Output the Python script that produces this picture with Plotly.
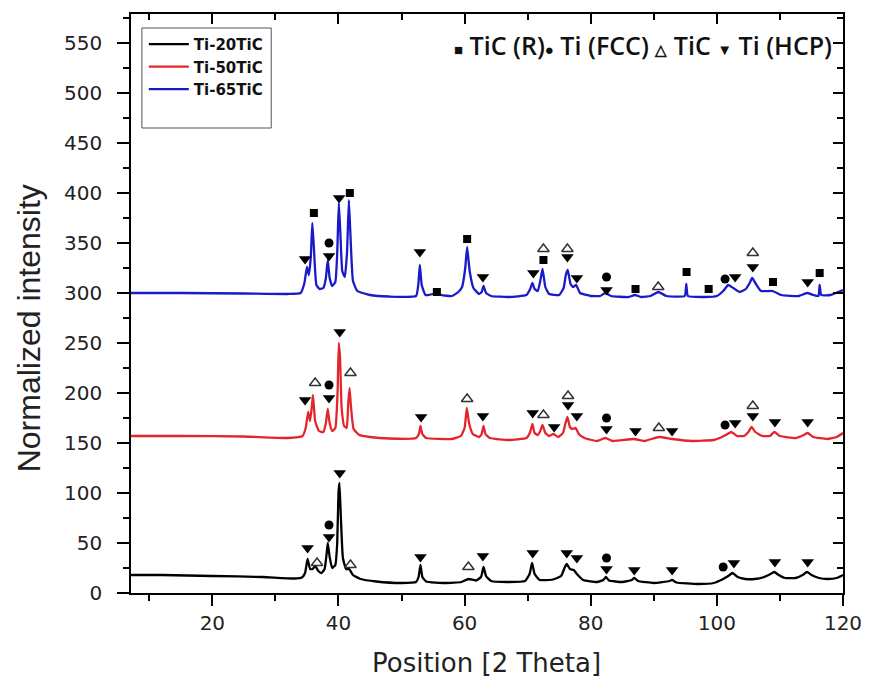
import plotly.graph_objects as go

# ---------------- data ----------------
samples = ["Ti-20TiC", "Ti-50TiC", "Ti-65TiC"]
colors = ["#000000", "#e3262b", "#1a1ac8"]

theta_20 = [7.1, 12, 20, 28, 33, 34.2, 34.7, 35.1, 35.5, 35.9, 36.3, 36.8, 37.3, 37.8, 38.1, 38.3, 38.6, 39.0,
            39.5, 39.8, 40.0, 40.15, 40.35, 40.7, 41.2, 41.7, 42.3, 43.5, 46, 50, 52.3, 52.7, 53.0, 53.3, 53.9,
            57, 59.5, 60.6, 61.8, 62.6, 63.0, 63.4, 64.2, 67, 69.6, 70.3, 70.7, 71.1, 71.9, 74, 75.3, 75.9,
            76.2, 76.7, 77.3, 77.8, 78.8, 81, 82.0, 82.4, 82.9, 85, 86.5, 86.9, 87.5, 90, 92.5, 92.9, 93.6, 97,
            99.5, 101, 101.8, 102.5, 103.3, 104.5, 106, 107.5, 108.5, 109.1, 109.8, 110.8, 112.5, 113.6, 114.3,
            115.0, 116.2, 117.5, 119, 120]
int_20 = [18, 18, 17, 16, 14.5, 15.5, 20, 34, 24, 24, 27, 22, 20, 24, 38, 50, 36, 25,
          28, 50, 100, 110, 80, 35, 24, 24, 18, 14, 11.5, 10, 11, 16, 28, 16, 11.5,
          10, 11, 14, 12.5, 16, 26, 17, 12, 11, 12, 19, 30, 19, 13, 13.5, 17, 26,
          29, 24, 23, 19, 13, 11, 13, 16, 12.5, 11, 13, 15, 12, 10, 12, 13, 10.5, 9,
          10, 14, 17, 20, 16, 14, 14, 16, 19, 21, 18, 15, 15, 18, 21,
          18, 15, 14, 15, 18]

theta_50 = [7.1, 15, 25, 32, 34.3, 34.8, 35.2, 35.5, 35.75, 35.95, 36.3, 36.9, 37.6, 38.0, 38.3, 38.6, 39.0,
            39.5, 39.85, 40.05, 40.25, 40.5, 40.9, 41.3, 41.55, 41.75, 42.0, 42.4, 43.3, 45, 48, 52.3, 52.75,
            53.0, 53.3, 53.9, 58, 59.4, 60.0, 60.35, 60.7, 61.3, 62.3, 62.7, 63.0, 63.3, 64.0, 67, 69.8, 70.4,
            70.75, 71.1, 71.6, 72.0, 72.35, 72.8, 73.4, 74.1, 74.8, 75.6, 76.0, 76.3, 76.7, 77.1, 77.6, 78.1,
            79, 81, 82.3, 83.5, 86.8, 88.5, 90.8, 92.9, 96, 99.5, 100.8, 101.4, 102.3, 103.2, 104.3, 105.0,
            105.5, 106.1, 107.2, 108.4, 109.1, 110.0, 112.5, 113.8, 114.4, 115.3, 117.5, 119, 120]
int_50 = [157, 157, 156.5, 155, 157, 165, 181, 172, 185, 198, 172, 162, 161, 170, 184, 170, 162,
          165, 200, 250, 235, 185, 167, 165, 190, 205, 185, 164, 158, 156, 154.5, 155, 159,
          167, 159, 155, 154, 157, 165, 185, 170, 159, 156, 159, 167, 159, 155, 153, 155, 161,
          169, 160, 158, 162, 168, 160, 157, 159, 156, 160, 170, 176, 166, 164, 165, 159,
          155, 152, 155, 152, 154, 152, 156, 154, 152, 153, 156, 158, 161, 157, 157, 161,
          166, 161, 157, 157, 161, 157, 155, 158, 160, 156, 154, 156, 160]

theta_65 = [7.1, 15, 25, 32, 34.0, 34.6, 35.0, 35.3, 35.6, 35.85, 36.1, 36.5, 37.0, 37.6, 38.0, 38.3, 38.6,
            39.0, 39.5, 39.8, 40.05, 40.3, 40.6, 41.0, 41.35, 41.65, 41.95, 42.3, 43.0, 45, 48, 52.3, 52.65,
            52.9, 53.2, 53.8, 55.0, 55.6, 56.3, 58, 59.0, 59.6, 60.1, 60.4, 60.8, 61.4, 62.3, 62.7, 63.0, 63.4,
            64.2, 67, 69.8, 70.4, 70.75, 71.1, 71.6, 72.0, 72.35, 72.8, 73.4, 75, 75.7, 76.05, 76.35, 76.8,
            77.2, 77.7, 78.3, 80, 81.5, 82.3, 83.2, 86.0, 87, 88, 89.5, 90.7, 92.0, 94.9, 95.15, 95.4, 98, 100,
            101.0, 101.8, 102.6, 103.6, 104.6, 105.2, 105.6, 106.1, 107.0, 108.8, 110.2, 113, 114.3, 115.3,
            116.1, 116.3, 116.55, 118, 120]
int_65 = [300, 300, 299.5, 299, 300, 310, 326, 318, 335, 370, 345, 308, 304, 305, 315, 333, 315,
          307, 311, 340, 390, 360, 322, 316, 340, 393, 350, 312, 302, 298, 296.5, 297, 308,
          328, 308, 298, 299, 301, 298, 297, 301, 306, 325, 346, 322, 305, 299, 301, 307, 300,
          297, 296, 298, 304, 310, 304, 302, 312, 324, 306, 299, 298, 305, 318, 323, 309,
          306, 308, 300, 297, 297, 300, 297, 296, 298, 296, 297, 301, 297, 297, 309, 297, 296, 297,
          302, 308, 305, 301, 304, 310, 315, 310, 302, 302, 298, 297, 300, 298,
          297, 308, 298, 298, 303]

# phase identification markers (2-theta, marker height)
tic_r_theta = [36.1, 41.8, 55.6, 60.4, 72.5, 87.1, 95.2, 98.7, 108.9, 116.3]
tic_r_y = [380, 400, 301, 354, 333, 304, 321, 304, 311, 320]

ti_fcc_theta = [38.5, 82.5, 101.0, 38.5, 82.5, 101.3, 38.5, 82.5, 101.3]
ti_fcc_y = [68, 35, 26, 208, 175, 168, 350, 316, 314]

tic_theta = [36.6, 41.9, 60.6, 36.3, 41.9, 60.4, 72.5, 76.4, 90.8, 105.7, 72.5, 76.3, 90.7, 105.7]
tic_y = [30, 28, 26, 210, 220, 194, 178, 197, 165, 187, 344, 344, 306, 340]

ti_hcp_theta = [35.1, 38.5, 40.2, 53.0, 62.9, 70.8, 76.2, 77.8, 82.5, 86.9, 92.9, 102.7, 109.2, 114.4,
                34.7, 38.5, 40.2, 53.1, 62.9, 70.8, 74.2, 76.4, 77.8, 82.5, 87.1, 92.9, 102.9, 105.7, 109.2, 114.4,
                34.7, 38.5, 40.1, 52.9, 62.9, 70.9, 76.3, 77.8, 82.5, 102.9, 105.7, 114.4]
ti_hcp_y = [45, 56, 120, 36, 37, 40, 40, 35, 24, 23, 23, 30, 31, 31,
            193, 195, 261, 176, 177, 180, 166, 188, 177, 164, 162, 162, 170, 177, 171, 171,
            334, 337, 395, 341, 316, 320, 336, 315, 303, 316, 326, 311]

x_range = [7.1, 120]
y_range = [0, 579]

# ---------------- figure ----------------
fig = go.Figure()

for name, col, th, iy in zip(samples, colors, [theta_20, theta_50, theta_65], [int_20, int_50, int_65]):
    fig.add_trace(go.Scatter(x=th, y=iy, mode="lines", name=name,
                             line=dict(color=col, width=2.3, shape="spline", smoothing=0.4)))

marker_sets = [
    ("TiC (R)", tic_r_theta, tic_r_y, dict(symbol="square", size=8, color="black")),
    ("Ti (FCC)", ti_fcc_theta, ti_fcc_y, dict(symbol="circle", size=9, color="black")),
    ("TiC", tic_theta, tic_y, dict(symbol="triangle-up-open", size=10, color="#333333",
                                  line=dict(width=1.5, color="#333333"))),
    ("Ti (HCP)", ti_hcp_theta, ti_hcp_y, dict(symbol="triangle-down", size=11, color="black")),
]
# markers are drawn on the mirrored (top/right) axes, which share the exact same ranges
for name, th, iy, mk in marker_sets:
    fig.add_trace(go.Scatter(x=th, y=iy, mode="markers", name=name, marker=mk,
                             xaxis="x2", yaxis="y2", showlegend=False, hoverinfo="x+y+name"))

tick_font = dict(family="DejaVu Sans", size=20, color="#222222")
L, R, T, B = 131, 22, 14, 91

axis_common = dict(showgrid=False, zeroline=False, showline=True, linecolor="black", linewidth=1.5,
                   tickwidth=1.5, tickcolor="black")

fig.update_layout(
    width=874, height=684,
    margin=dict(l=L, r=R, t=T, b=B),
    paper_bgcolor="white", plot_bgcolor="white",
    showlegend=True,
    legend=dict(x=0.018, y=0.976, xanchor="left", yanchor="top",
                bgcolor="rgba(0,0,0,0)", borderwidth=0,
                font=dict(family="DejaVu Sans", size=15, color="#111111", weight="bold"),
                tracegroupgap=0, itemwidth=40),
    xaxis=dict(range=x_range, dtick=20, tick0=0, ticks="outside", ticklen=11,
               ticklabelstandoff=0,
               minor=dict(dtick=10, tick0=0, ticks="outside", ticklen=6, tickwidth=1.5, tickcolor="black"),
               tickfont=tick_font, **axis_common),
    yaxis=dict(range=y_range, dtick=50, tick0=0, ticks="outside", ticklen=12,
               ticklabelstandoff=11,
               minor=dict(dtick=25, tick0=0, ticks="outside", ticklen=6, tickwidth=1.5, tickcolor="black"),
               tickfont=tick_font, **axis_common),
    xaxis2=dict(range=x_range, overlaying="x", side="top", anchor="y2", dtick=20, tick0=0,
                showticklabels=False, ticks="inside", ticklen=10,
                minor=dict(dtick=10, tick0=0, ticks="inside", ticklen=6, tickwidth=1.5, tickcolor="black"),
                **axis_common),
    yaxis2=dict(range=y_range, overlaying="y", side="right", anchor="x2", dtick=50, tick0=0,
                showticklabels=False, ticks="inside", ticklen=10,
                minor=dict(dtick=25, tick0=0, ticks="inside", ticklen=6, tickwidth=1.5, tickcolor="black"),
                **axis_common),
)

pw = 874 - L - R
ph = 684 - T - B

def px_x(p):
    return (p - L) / pw

def px_y(p):
    return (684 - B - p) / ph

# legend frame
fig.add_shape(type="rect", xref="paper", yref="paper",
              x0=px_x(142), x1=px_x(273), y0=px_y(128), y1=px_y(28),
              line=dict(color="#555555", width=1), fillcolor="rgba(0,0,0,0)")

sym = lambda s, sz=15: f"<span style='font-size:{sz}px'>{s}</span>"
fig.add_annotation(xref="paper", yref="paper", x=px_x(843), y=px_y(45),
                   xanchor="right", yanchor="middle", showarrow=False,
                   text=f"{sym('■')} TiC (R){sym('●')} Ti (FCC) {sym('△')} TiC {sym('▼')} Ti (HCP)",
                   font=dict(family="Open Sans", size=25, color="#111111", weight=600))

fig.add_annotation(xref="paper", yref="paper", x=px_x(28), y=px_y(328),
                   xanchor="center", yanchor="middle", showarrow=False, textangle=-90,
                   text="Normalized intensity",
                   font=dict(family="Liberation Sans", size=32, color="#222222"))
fig.add_annotation(xref="paper", yref="paper", x=px_x(491), y=px_y(663),
                   xanchor="center", yanchor="middle", showarrow=False,
                   text="Position [2 Theta]",
                   font=dict(family="DejaVu Sans", size=26, color="#222222"))

fig.write_html("out.html")
